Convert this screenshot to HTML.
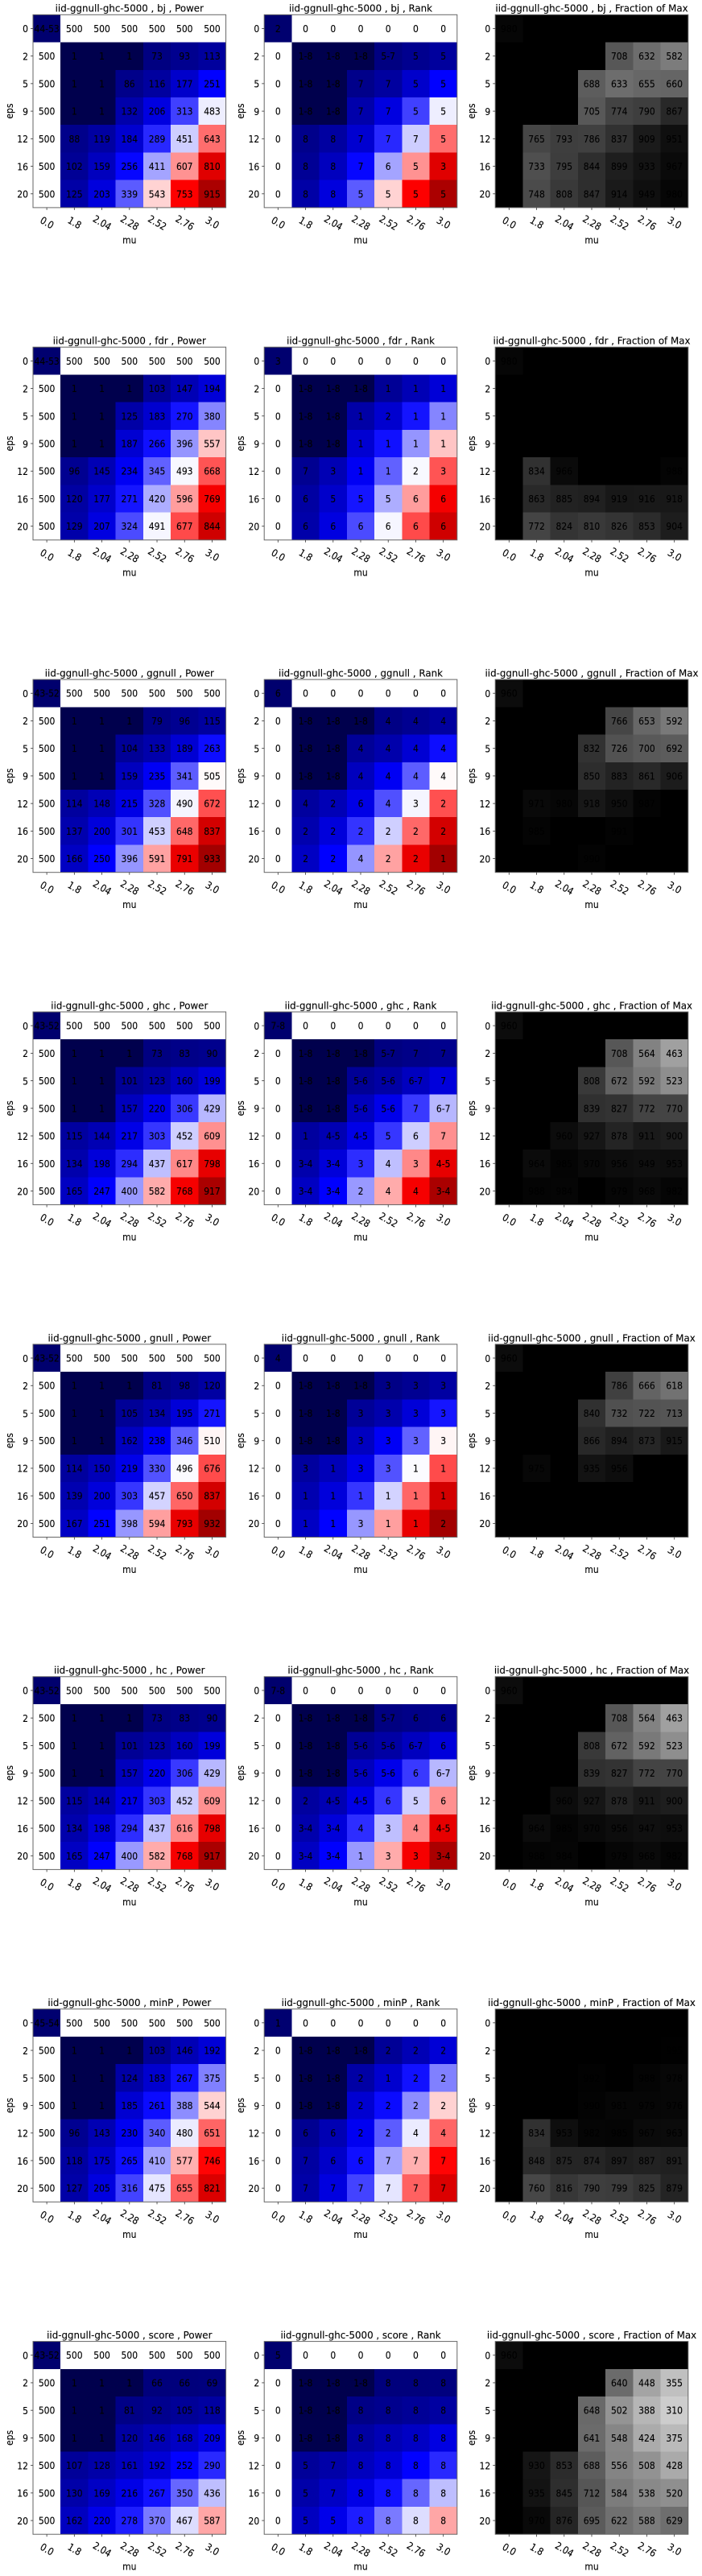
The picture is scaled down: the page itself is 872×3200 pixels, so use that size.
<!DOCTYPE html>
<html lang="en">
<head>
<meta charset="utf-8">
<title>iid-ggnull-ghc-5000 heatmaps</title>
<style>
html,body{margin:0;padding:0;background:#fff;width:872px;height:3200px;overflow:hidden}
svg{display:block}
text{font-family:"DejaVu Sans","Liberation Sans",sans-serif;fill:#000;stroke:#000;stroke-width:.12}
</style>
</head>
<body>
<svg id="figure" xmlns="http://www.w3.org/2000/svg" width="872" height="3200" viewBox="0 0 872 3200"></svg>
<script>
const datasetName = "iid-ggnull-ghc-5000";
const methods = ["bj","fdr","ggnull","ghc","gnull","hc","minP","score"];
const muTicks = ["0.0","1.8","2.04","2.28","2.52","2.76","3.0"];
const epsTicks = ["0","2","5","9","12","16","20"];

const powerBj = [["44-53",500,500,500,500,500,500],[500,1,1,1,73,93,113],[500,1,1,86,116,177,251],[500,1,1,132,206,313,483],[500,88,119,184,289,451,643],[500,102,159,256,411,607,810],[500,125,203,339,543,753,915]];
const rankBj = [["2","0","0","0","0","0","0"],["0","1-8","1-8","1-8","5-7","5","5"],["0","1-8","1-8","7","7","5","5"],["0","1-8","1-8","7","7","5","5"],["0","8","8","7","7","7","5"],["0","8","8","7","6","5","3"],["0","8","8","5","5","5","5"]];
const fractionBj = [[980,null,null,null,null,null,null],[null,null,null,null,708,632,582],[null,null,null,688,633,655,660],[null,null,null,705,774,790,867],[null,765,793,786,837,909,951],[null,733,795,844,899,933,967],[null,748,808,847,914,949,980]];

const powerFdr = [["44-53",500,500,500,500,500,500],[500,1,1,1,103,147,194],[500,1,1,125,183,270,380],[500,1,1,187,266,396,557],[500,96,145,234,345,493,668],[500,120,177,271,420,596,769],[500,129,207,324,491,677,844]];
const rankFdr = [["3","0","0","0","0","0","0"],["0","1-8","1-8","1-8","1","1","1"],["0","1-8","1-8","1","2","1","1"],["0","1-8","1-8","1","1","1","1"],["0","7","3","1","1","2","3"],["0","6","5","5","5","6","6"],["0","6","6","6","6","6","6"]];
const fractionFdr = [[980,null,null,null,null,null,null],[null,null,null,null,null,null,null],[null,null,null,null,null,null,null],[null,null,null,null,null,null,null],[null,834,966,null,null,null,988],[null,863,885,894,919,916,918],[null,772,824,810,826,853,904]];

const powerGgnull = [["43-52",500,500,500,500,500,500],[500,1,1,1,79,96,115],[500,1,1,104,133,189,263],[500,1,1,159,235,341,505],[500,114,148,215,328,490,672],[500,137,200,301,453,648,837],[500,166,250,396,591,791,933]];
const rankGgnull = [["6","0","0","0","0","0","0"],["0","1-8","1-8","1-8","4","4","4"],["0","1-8","1-8","4","4","4","4"],["0","1-8","1-8","4","4","4","4"],["0","4","2","6","4","3","2"],["0","2","2","2","2","2","2"],["0","2","2","4","2","2","1"]];
const fractionGgnull = [[960,null,null,null,null,null,null],[null,null,null,null,766,653,592],[null,null,null,832,726,700,692],[null,null,null,850,883,861,906],[null,971,980,918,950,987,null],[null,985,null,null,991,null,null],[null,null,null,990,null,null,null]];

const powerGhc = [["43-52",500,500,500,500,500,500],[500,1,1,1,73,83,90],[500,1,1,101,123,160,199],[500,1,1,157,220,306,429],[500,115,144,217,303,452,609],[500,134,198,294,437,617,798],[500,165,247,400,582,768,917]];
const rankGhc = [["7-8","0","0","0","0","0","0"],["0","1-8","1-8","1-8","5-7","7","7"],["0","1-8","1-8","5-6","5-6","6-7","7"],["0","1-8","1-8","5-6","5-6","7","6-7"],["0","1","4-5","4-5","5","6","7"],["0","3-4","3-4","3","4","3","4-5"],["0","3-4","3-4","2","4","4","3-4"]];
const fractionGhc = [[960,null,null,null,null,null,null],[null,null,null,null,708,564,463],[null,null,null,808,672,592,523],[null,null,null,839,827,772,770],[null,null,960,927,878,911,900],[null,964,985,970,956,949,953],[null,988,984,null,979,968,982]];

const powerGnull = [["43-52",500,500,500,500,500,500],[500,1,1,1,81,98,120],[500,1,1,105,134,195,271],[500,1,1,162,238,346,510],[500,114,150,219,330,496,676],[500,139,200,303,457,650,837],[500,167,251,398,594,793,932]];
const rankGnull = [["4","0","0","0","0","0","0"],["0","1-8","1-8","1-8","3","3","3"],["0","1-8","1-8","3","3","3","3"],["0","1-8","1-8","3","3","3","3"],["0","3","1","3","3","1","1"],["0","1","1","1","1","1","1"],["0","1","1","3","1","1","2"]];
const fractionGnull = [[960,null,null,null,null,null,null],[null,null,null,null,786,666,618],[null,null,null,840,732,722,713],[null,null,null,866,894,873,915],[null,975,null,935,956,null,null],[null,null,null,null,null,null,null],[null,null,null,null,null,null,null]];

const powerHc = [["43-52",500,500,500,500,500,500],[500,1,1,1,73,83,90],[500,1,1,101,123,160,199],[500,1,1,157,220,306,429],[500,115,144,217,303,452,609],[500,134,198,294,437,616,798],[500,165,247,400,582,768,917]];
const rankHc = [["7-8","0","0","0","0","0","0"],["0","1-8","1-8","1-8","5-7","6","6"],["0","1-8","1-8","5-6","5-6","6-7","6"],["0","1-8","1-8","5-6","5-6","6","6-7"],["0","2","4-5","4-5","6","5","6"],["0","3-4","3-4","4","3","4","4-5"],["0","3-4","3-4","1","3","3","3-4"]];
const fractionHc = [[960,null,null,null,null,null,null],[null,null,null,null,708,564,463],[null,null,null,808,672,592,523],[null,null,null,839,827,772,770],[null,null,960,927,878,911,900],[null,964,985,970,956,947,953],[null,988,984,null,979,968,982]];

const powerMinP = [["45-54",500,500,500,500,500,500],[500,1,1,1,103,146,192],[500,1,1,124,183,267,375],[500,1,1,185,261,388,544],[500,96,143,230,340,480,651],[500,118,175,265,410,577,746],[500,127,205,316,475,655,821]];
const rankMinP = [["1","0","0","0","0","0","0"],["0","1-8","1-8","1-8","2","2","2"],["0","1-8","1-8","2","1","2","2"],["0","1-8","1-8","2","2","2","2"],["0","6","6","2","2","4","4"],["0","7","6","6","7","7","7"],["0","7","7","7","7","7","7"]];
const fractionMinP = [[null,null,null,null,null,null,null],[null,null,null,null,null,null,995],[null,null,null,992,null,988,978],[null,null,null,990,981,979,976],[null,834,953,982,985,967,963],[null,848,875,874,897,887,891],[null,760,816,790,799,825,879]];

const powerScore = [["43-52",500,500,500,500,500,500],[500,1,1,1,66,66,69],[500,1,1,81,92,105,118],[500,1,1,120,146,168,209],[500,107,128,161,192,252,290],[500,130,169,216,267,350,436],[500,162,220,278,370,467,587]];
const rankScore = [["5","0","0","0","0","0","0"],["0","1-8","1-8","1-8","8","8","8"],["0","1-8","1-8","8","8","8","8"],["0","1-8","1-8","8","8","8","8"],["0","5","7","8","8","8","8"],["0","5","7","8","8","8","8"],["0","5","5","8","8","8","8"]];
const fractionScore = [[960,null,null,null,null,null,null],[null,null,null,null,640,448,355],[null,null,null,648,502,388,310],[null,null,null,641,548,424,375],[null,930,853,688,556,508,428],[null,935,845,712,584,538,520],[null,970,876,695,622,588,629]];

const powerTables = [powerBj,powerFdr,powerGgnull,powerGhc,powerGnull,powerHc,powerMinP,powerScore];
const rankTables = [rankBj,rankFdr,rankGgnull,rankGhc,rankGnull,rankHc,rankMinP,rankScore];
const fractionTables = [fractionBj,fractionFdr,fractionGgnull,fractionGhc,fractionGnull,fractionHc,fractionMinP,fractionScore];

const NS = "http://www.w3.org/2000/svg";
const svg = document.getElementById("figure");
const PANEL = 239.6, ROW_TOP = 18.3, ROW_PITCH = 412.9;
const COL_LEFT = [41, 328.2, 615.2];
const BODY_FONT = 12.4, BODY_SQUEEZE = 0.87, TITLE_FONT = 12.6, TITLE_SQUEEZE = 0.94;

function xScale(left, col){ return left + col * PANEL / muTicks.length; }
function yScale(top, row){ return top + row * PANEL / epsTicks.length; }
function seismic(value){
  const v = Math.max(0, Math.min(1, value / 1000));
  let r, g, b;
  if (v < 0.25){ r = 0; g = 0; b = 0.3 + 0.7 * v / 0.25; }
  else if (v < 0.5){ const t = (v - 0.25) / 0.25; r = t; g = t; b = 1; }
  else if (v < 0.75){ const t = (v - 0.5) / 0.25; r = 1; g = 1 - t; b = 1 - t; }
  else { const t = (v - 0.75) / 0.25; r = 1 - 0.5 * t; g = 0; b = 0; }
  return "rgb(" + Math.round(r * 255) + "," + Math.round(g * 255) + "," + Math.round(b * 255) + ")";
}
function grayFraction(value){
  if (value === null) return "rgb(0,0,0)";
  const g = Math.max(0, Math.min(255, Math.round((1000 - value) / 857 * 255)));
  return "rgb(" + g + "," + g + "," + g + ")";
}
function numeric(value){
  if (typeof value === "number") return value;
  const parts = String(value).split("-").map(Number);
  return parts.reduce((a, b) => a + b, 0) / parts.length;
}
function makeEl(tag, attrs, parent){
  const el = document.createElementNS(NS, tag);
  for (const k in attrs) el.setAttribute(k, attrs[k]);
  parent.appendChild(el);
  return el;
}
function makeText(parent, str, x, y, rot, anchor, size, squeeze){
  const t = makeEl("text", {
    transform: "translate(" + x + "," + y + ") rotate(" + rot + ") scale(" + squeeze + ",1)",
    "text-anchor": anchor,
    "font-size": size
  }, parent);
  t.textContent = str;
  return t;
}

function drawPanel(left, top, title, fillFor, labelFor, slug){
  const g = makeEl("g", {}, svg);
  
  

  for (let r = 0; r < epsTicks.length; r++){
    for (let c = 0; c < muTicks.length; c++){
      const x0 = xScale(left, c), x1 = xScale(left, c + 1);
      const y0 = yScale(top, r), y1 = yScale(top, r + 1);
      const rect = makeEl("rect", {x: x0, y: y0, width: x1 - x0, height: y1 - y0, fill: fillFor(r, c), "shape-rendering": "crispEdges"}, g);
      
      
      const label = labelFor(r, c);
      if (label !== null){
        const t = makeText(g, label, (x0 + x1) / 2, (y0 + y1) / 2 + 4.5, 0, "middle", BODY_FONT, BODY_SQUEEZE);
        
        
      }
    }
  }

  const heading = makeText(g, title, left + PANEL / 2, top - 3.6, 0, "middle", TITLE_FONT, TITLE_SQUEEZE);
  
  

  const frame = makeEl("rect", {x: left, y: top, width: PANEL, height: PANEL, fill: "none", stroke: "#666", "stroke-width": 1}, g);
  
  

  muTicks.forEach((tick, c) => {
    const x = (xScale(left, c) + xScale(left, c + 1)) / 2;
    const bottom = top + PANEL;
    const mark = makeEl("line", {x1: x, x2: x, y1: bottom, y2: bottom + 3, stroke: "#333", "stroke-width": 0.8}, g);
    
    
    const cx = x + 0.4 - 4.5 * Math.sin(Math.PI / 6);
    const cy = bottom + 18.6 + 4.5 * Math.cos(Math.PI / 6);
    const t = makeText(g, tick, cx, cy, 30, "middle", BODY_FONT, BODY_SQUEEZE);
    
    
  });
  epsTicks.forEach((tick, r) => {
    const y = (yScale(top, r) + yScale(top, r + 1)) / 2;
    const mark = makeEl("line", {x1: left - 3, x2: left, y1: y, y2: y, stroke: "#333", "stroke-width": 0.8}, g);
    
    
    const t = makeText(g, tick, left - 6, y + 4.8, 0, "end", BODY_FONT, BODY_SQUEEZE);
    
    
  });

  const xTitle = makeText(g, "mu", left + PANEL / 2, top + PANEL + 44.5, 0, "middle", BODY_FONT, BODY_SQUEEZE);
  
  

  const yTitle = makeText(g, "eps", left - 25, top + PANEL / 2, -90, "middle", BODY_FONT, BODY_SQUEEZE);
  
  
}

methods.forEach((method, i) => {
  const top = ROW_TOP + ROW_PITCH * i;
  const power = powerTables[i], rank = rankTables[i], fraction = fractionTables[i];
  const prefix = datasetName + " , " + method + " , ";
  drawPanel(COL_LEFT[0], top, prefix + "Power",
    (r, c) => seismic(numeric(power[r][c])),
    (r, c) => String(power[r][c]),
    method.toLowerCase() + "-power");
  drawPanel(COL_LEFT[1], top, prefix + "Rank",
    (r, c) => seismic(numeric(power[r][c])),
    (r, c) => rank[r][c],
    method.toLowerCase() + "-rank");
  drawPanel(COL_LEFT[2], top, prefix + "Fraction of Max",
    (r, c) => grayFraction(fraction[r][c]),
    (r, c) => fraction[r][c] === null ? null : String(fraction[r][c]),
    method.toLowerCase() + "-fraction");
});
</script>
</body>
</html>
